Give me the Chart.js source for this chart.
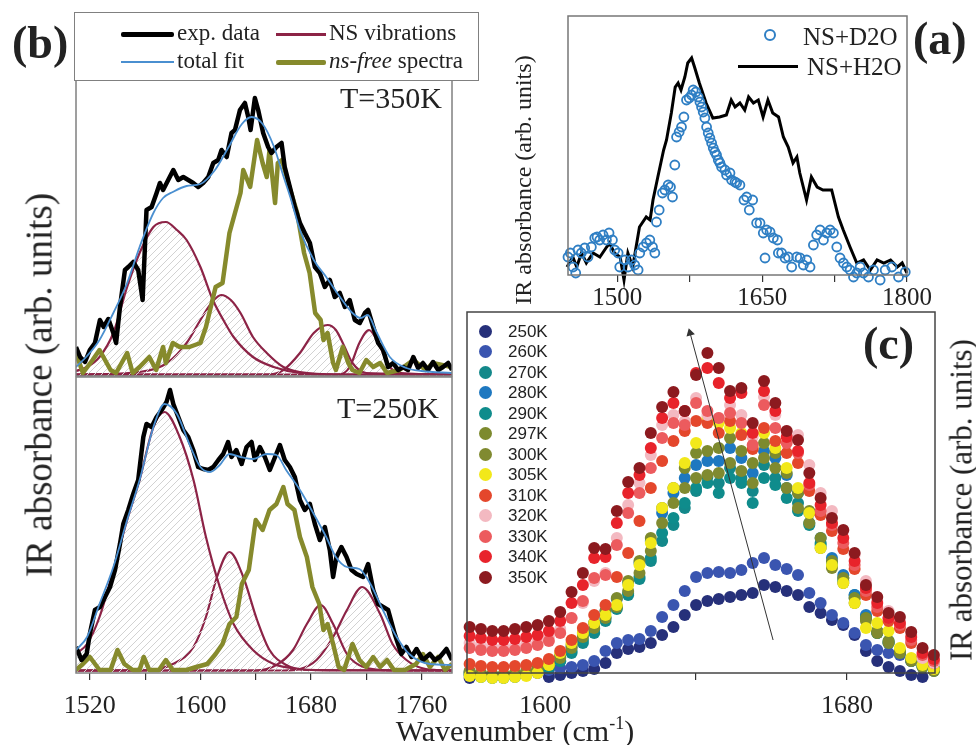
<!DOCTYPE html>
<html>
<head>
<meta charset="utf-8">
<script src="https://cdn.jsdelivr.net/npm/chart.js@4.4.1/dist/chart.umd.min.js"></script>
<style>
  body { margin: 0; background: #fff; }
  #fig { position: relative; width: 976px; height: 745px; overflow: hidden;
         font-family: "Liberation Serif", "Times New Roman", serif; color: #222; }
  #fig canvas { position: absolute; left: 0; top: 0; }
  .t { position: absolute; white-space: nowrap; line-height: 1; }
  .rot { transform: translate(-50%, -50%) rotate(-90deg); }
  .pl { font-weight: bold; font-size: 46px; color: #222; }
  .ln { position: absolute; }
  .dot { position: absolute; width: 13px; height: 13px; border-radius: 50%; }
  .cl { position: absolute; font-family: "Liberation Sans", Arial, sans-serif; font-size: 17px; line-height: 1; color: #222; }
</style>
</head>
<body>
<div id="fig">
  <canvas id="cBTop" width="976" height="745"></canvas>
  <canvas id="cBBot" width="976" height="745"></canvas>
  <canvas id="cA" width="976" height="745"></canvas>
  <canvas id="cC" width="976" height="745"></canvas>

  <!-- legende (b) -->
  <div style="position:absolute;left:74px;top:12px;width:403px;height:67px;border:1.5px solid #808080;background:#fff;font-size:23px;">
    <div class="ln" style="left:46px;top:19px;width:53px;height:5px;background:#000;border-radius:2px"></div>
    <div class="t" style="left:102px;top:8px">exp. data</div>
    <div class="ln" style="left:46px;top:48px;width:53px;height:2px;background:#4a8fd0"></div>
    <div class="t" style="left:102px;top:36px">total fit</div>
    <div class="ln" style="left:201px;top:20px;width:50px;height:2.5px;background:#8c2346"></div>
    <div class="t" style="left:254px;top:8px">NS vibrations</div>
    <div class="ln" style="left:201px;top:47px;width:50px;height:5px;background:#868a2c;border-radius:2px"></div>
    <div class="t" style="left:254px;top:36px"><i>ns-free</i> spectra</div>
  </div>

  <div class="t pl" style="left:12px;top:20px">(b)</div>
  <div class="t pl" style="left:913px;top:16px">(a)</div>
  <div class="t pl" style="left:863px;top:321px">(c)</div>

  <div class="t" style="left:340px;top:83px;font-size:30px">T=350K</div>
  <div class="t" style="left:337px;top:393px;font-size:30px">T=250K</div>

  <div class="t rot" style="left:39px;top:385px;font-size:37px">IR absorbance (arb. units)</div>
  <div class="t rot" style="left:523px;top:180px;font-size:24px">IR absorbance (arb. units)</div>
  <div class="t rot" style="left:961px;top:500px;font-size:31px">IR absorbance (arb. units)</div>

  <div class="t" style="left:515px;top:716px;font-size:30px;transform:translateX(-50%)">Wavenumber (cm<span style="font-size:18px;position:relative;top:-12px">-1</span>)</div>

  <!-- legende (a) -->
  <div class="ln" style="left:764px;top:29px;width:8px;height:8px;border:2px solid #2f7fc4;border-radius:50%"></div>
  <div class="t" style="left:803px;top:24px;font-size:25px">NS+D2O</div>
  <div class="ln" style="left:738px;top:65px;width:60px;height:3px;background:#000"></div>
  <div class="t" style="left:807px;top:54px;font-size:25px">NS+H2O</div>

  <div id="legC"></div>
</div>

<script>
// ---------- données (b), T = 350K ----------
const bTopExp = [[1510,29],[1513,19],[1516.5,14],[1520,26],[1523.7,33],[1527.3,56],[1530,49],[1533.4,57],[1537,43],[1539,33],[1541.8,69],[1545.4,106],[1547.8,109],[1551.4,114],[1555,106],[1558.2,76],[1561,166],[1564.7,169],[1568.3,183],[1570.7,193],[1573,186],[1576.7,196],[1580.4,206],[1584,196],[1587.6,199],[1591.2,196],[1594.8,193],[1598.4,189],[1602,193],[1605.7,199],[1609.3,213],[1612.9,216],[1615.3,226],[1619,219],[1622.5,243],[1625,246],[1628.6,266],[1632.2,273],[1634.6,259],[1636.3,246],[1639.4,278],[1641.8,266],[1645.4,243],[1649,229],[1651.4,223],[1655,229],[1658.7,233],[1661,209],[1664.7,189],[1668.3,169],[1672,153],[1675.5,143],[1679.2,133],[1682.8,109],[1686.4,103],[1690,89],[1693.6,96],[1697.2,79],[1700.8,83],[1704.5,69],[1708,76],[1711.7,56],[1715.3,53],[1719,63],[1721.3,66],[1725,49],[1728.6,33],[1732.2,26],[1735.8,9],[1739.4,13],[1743,6],[1746.6,9],[1750.2,6],[1754,19],[1757.5,8],[1761,13],[1764.7,6],[1768.3,14],[1772,6],[1775.5,9],[1779.2,13],[1782,6]];
const bTopFit = [[1510,9],[1518,20],[1527,36],[1537,63],[1547,93],[1556,129],[1566,163],[1573,178],[1580,184],[1590,190],[1600,192],[1610,205],[1620,228],[1630,252],[1637,259],[1645,252],[1653,230],[1660,200],[1665,179],[1672,146],[1682,116],[1691,99],[1701,79],[1710,63],[1716,58],[1721,61],[1727,45],[1737,19],[1749,8],[1760,5],[1782,3]];
const bTopFree = [[1510,23],[1515,3],[1522,16],[1527,26],[1535,6],[1539,3],[1547,23],[1551,3],[1556,9],[1563,19],[1568,6],[1573,29],[1575,13],[1580,33],[1585,29],[1592,29],[1600,33],[1604,49],[1611,89],[1616,93],[1619,123],[1621,143],[1629,183],[1631,206],[1636,189],[1641,236],[1645,213],[1648,199],[1650,226],[1654,173],[1656,213],[1659,216],[1665,186],[1670,163],[1675,123],[1679,103],[1683,63],[1687,56],[1689,36],[1692,43],[1696,13],[1698,6],[1703,29],[1707,13],[1710,6],[1715,3],[1720,16],[1725,9],[1730,13],[1735,3],[1744,6],[1754,16],[1763,6],[1768,13],[1782,9]];
const bTopNS1 = [[1510,5],[1518,9],[1527,19],[1537,43],[1547,89],[1556,123],[1566,149],[1575,154],[1583,146],[1590,136],[1600,109],[1609,76],[1617,55],[1624,39],[1638,19],[1653,9],[1672,3],[1700,1.5],[1782,1.5]];
const bTopNS2 = [[1510,1.5],[1556,4],[1576,13],[1590,33],[1600,56],[1608,73],[1615,81],[1622,76],[1629,63],[1638,39],[1648,23],[1660,9],[1672,4],[1700,1.5],[1782,1.5]];
const bTopNS3 = [[1510,1.5],[1650,1.5],[1660,6],[1672,23],[1682,43],[1692,51],[1698,46],[1703,33],[1710,13],[1720,3],[1782,1.5]];
const bTopNS4 = [[1510,1.5],[1700,1.5],[1708,9],[1715,33],[1722,46],[1730,29],[1737,9],[1745,3],[1782,1.5]];

// ---------- données (b), T = 250K ----------
const bBotExp = [[1510,25],[1514,12],[1517.7,18],[1520,38],[1523.7,62],[1527.3,65],[1531,75],[1534.6,85],[1538.2,102],[1541.8,128],[1544.2,148],[1547.8,162],[1551.4,178],[1555,192],[1558.7,235],[1561,248],[1564.7,245],[1568.3,255],[1572,262],[1575.5,270],[1578,282],[1580.4,268],[1584,255],[1587.6,242],[1591.2,235],[1594.8,222],[1598.4,205],[1602,203],[1605.7,202],[1609.3,205],[1613,212],[1616.5,218],[1620,230],[1622.5,215],[1626,222],[1629.8,208],[1633.4,225],[1637,230],[1639.4,212],[1643,225],[1646.6,215],[1650.2,202],[1654,215],[1657.5,227],[1661,212],[1664.7,205],[1668.3,195],[1672,172],[1675.5,162],[1679.2,168],[1682.8,148],[1686.4,132],[1690,145],[1693.6,122],[1696,95],[1698.4,115],[1702,125],[1705.7,115],[1709.3,102],[1713,98],[1717.7,95],[1721.3,108],[1725,82],[1728.6,68],[1732.2,65],[1735.8,62],[1740.6,38],[1745.4,18],[1749,25],[1752.7,15],[1756.3,23],[1761,12],[1766,18],[1769.5,12],[1773.2,15],[1778,23],[1782,12]];
const bBotFit = [[1510,22],[1518,35],[1527,68],[1537,105],[1547,152],[1556,192],[1566,245],[1574,268],[1583,258],[1592,228],[1600,205],[1607,200],[1614,207],[1621,218],[1629,215],[1638,213],[1648,218],[1655,217],[1662,202],[1672,182],[1682,158],[1691,135],[1698,115],[1706,105],[1715,103],[1723,88],[1732,62],[1742,35],[1751,18],[1766,8],[1782,7]];
const bBotFree = [[1510,2],[1515,8],[1520,15],[1527,2],[1535,2],[1540,22],[1545,8],[1551,2],[1556,2],[1559,15],[1563,2],[1570,2],[1575,12],[1580,2],[1590,2],[1597,5],[1605,8],[1611,18],[1616,28],[1621,48],[1626,55],[1630,88],[1635,102],[1640,152],[1645,142],[1650,162],[1655,168],[1660,185],[1663,168],[1668,162],[1672,135],[1677,115],[1681,85],[1686,68],[1689,42],[1692,48],[1696,28],[1700,5],[1704,2],[1710,28],[1715,12],[1720,5],[1725,15],[1730,5],[1735,12],[1740,2],[1748,2],[1756,8],[1761,18],[1766,5],[1772,15],[1777,2],[1782,8]];
const bBotNS1 = [[1510,18],[1518,28],[1527,55],[1537,102],[1547,152],[1556,192],[1566,245],[1574,260],[1585,235],[1595,192],[1604,135],[1614,85],[1624,48],[1638,22],[1653,8],[1672,3],[1700,1.5],[1782,1.5]];
const bBotNS2 = [[1510,1.5],[1563,2],[1580,8],[1595,25],[1604,55],[1612,95],[1621,120],[1631,95],[1641,52],[1650,22],[1662,7],[1677,2],[1782,1.5]];
const bBotNS3 = [[1510,1.5],[1640,1.5],[1655,7],[1667,22],[1677,48],[1687,67],[1696,48],[1706,18],[1718,5],[1740,1.5],[1782,1.5]];
const bBotNS4 = [[1510,1.5],[1660,1.5],[1672,3],[1684,12],[1696,35],[1706,62],[1717,85],[1730,58],[1739,28],[1749,12],[1763,3],[1782,1.5]];
const bTicks = [1520, 1560, 1600, 1640, 1680, 1720, 1760];
const bLabels = [1520, 1600, 1680, 1760];

// ---------- données (a) ----------
const aH2O = [[1448,8],[1454,18],[1458,8],[1463,22],[1468,12],[1475,22],[1482,18],[1489,28],[1492,32],[1497,22],[1503,18],[1507,-5],[1511,22],[1516,8],[1523,48],[1530,58],[1534,55],[1537,75],[1542,98],[1548,125],[1551,135],[1556,162],[1560,188],[1563,192],[1566,185],[1570,198],[1573,212],[1577,217],[1580,208],[1585,192],[1592,172],[1599,157],[1606,158],[1613,160],[1618,175],[1622,168],[1627,172],[1632,165],[1636,178],[1641,172],[1646,175],[1651,158],[1656,175],[1661,162],[1667,158],[1672,138],[1677,128],[1682,112],[1686,118],[1689,102],[1696,75],[1701,98],[1707,88],[1713,85],[1722,85],[1729,58],[1734,45],[1741,28],[1748,12],[1755,15],[1762,5],[1769,15],[1776,12],[1783,15],[1790,8],[1795,12],[1800,2]];
const aD2O = [[1449,18],[1451.4,22],[1454.2,8],[1457,2],[1459.4,25],[1462.8,22],[1466.3,27],[1469.7,18],[1473.2,28],[1476.7,37],[1479.1,38],[1481.8,35],[1485.3,40],[1488.8,35],[1491.5,42],[1495,35],[1497.4,25],[1500.9,22],[1502.6,8],[1505.4,-8],[1507.8,15],[1511.2,8],[1514.7,15],[1518.1,10],[1521.6,5],[1523.3,22],[1526.8,28],[1530.2,32],[1533.7,35],[1536.5,28],[1538.9,22],[1540.6,53],[1543.4,65],[1546.8,82],[1549.3,85],[1552.7,90],[1555.1,88],[1557.2,78],[1559.6,110],[1561.4,138],[1564.1,143],[1566.5,148],[1569,158],[1571.7,175],[1574.5,177],[1576.9,180],[1578.6,185],[1581.4,183],[1583.8,178],[1585.6,173],[1587.3,168],[1589,163],[1590.7,157],[1592.5,148],[1594.2,142],[1595.9,137],[1597.7,132],[1599.4,127],[1601.1,123],[1602.8,120],[1604.6,115],[1606.3,112],[1608,108],[1611.5,105],[1613.2,100],[1616.7,102],[1618.4,95],[1621.9,93],[1623.6,92],[1627,90],[1631.2,75],[1634,78],[1636.7,65],[1640.2,75],[1644.3,52],[1647.8,52],[1651.2,42],[1653,17],[1654.7,45],[1658.2,43],[1661.6,37],[1665.8,35],[1666.8,22],[1670.2,22],[1673.7,17],[1677.2,18],[1680.6,8],[1683,-8],[1685.8,18],[1689.3,17],[1692.7,10],[1696.2,15],[1699.6,8],[1703.1,30],[1706.5,40],[1710,45],[1713.5,35],[1716.9,42],[1720.4,45],[1723.8,42],[1727.3,28],[1730.7,17],[1734.2,12],[1737.7,8],[1741.1,5],[1744.6,-2],[1748,2],[1751.5,8],[1754.9,2],[1760.1,-2],[1765.3,5],[1772.2,-5],[1777.4,5],[1784.3,8],[1791.2,-2],[1798.2,3]];
const aTicks = [1500, 1575, 1650, 1725, 1800];
const aLabels = [1500, 1650, 1800];

// ---------- données (c) ----------
const cWave = [1580,1583,1586,1589,1592,1595,1598,1601,1604,1607,1610,1613,1616,1619,1622,1625,1628,1631,1634,1637,1640,1643,1646,1649,1652,1655,1658,1661,1664,1667,1670,1673,1676,1679,1682,1685,1688,1691,1694,1697,1700,1703];
const c250 = [-5,-7,-8,-9,-9,-8,-6,-4,-2,0,2,4,10,20,24,26,30,38,46,58,68,72,74,76,78,80,88,86,82,78,66,60,53,48,38,22,12,6,2,-2,-4,-6];
const c260 = [-2,-3,-4,-4,-3,-2,0,3,5,6,8,12,22,30,33,34,42,56,68,82,96,100,101,100,103,110,115,108,104,98,80,70,58,50,40,28,23,20,18,12,8,5];
const c270 = [-2,-4,-5,-5,-4,-2,1,5,12,20,30,40,52,64,78,94,112,132,148,165,182,196,190,205,195,182,208,195,185,170,150,130,110,95,78,55,40,30,20,12,6,2];
const c280 = [1,-1,-2,-2,-1,1,4,8,16,26,38,50,62,74,90,110,132,160,180,195,208,212,212,225,215,200,222,215,198,180,160,135,115,98,78,58,42,30,20,12,6,3];
const c290 = [0,-2,-3,-3,-2,0,2,6,12,22,33,44,55,66,80,96,115,140,155,170,185,190,180,195,190,170,195,188,175,162,148,128,108,92,75,55,40,32,22,14,7,3];
const c297 = [2,0,-1,-1,0,2,5,10,18,28,40,50,62,75,92,112,135,165,185,205,220,222,225,235,222,210,230,220,200,180,162,135,112,95,75,55,42,32,22,14,8,4];
const c300 = [0,-2,-3,-3,-2,0,3,8,15,25,36,45,55,66,82,100,122,150,170,185,195,198,200,210,202,190,215,205,185,165,150,125,105,90,70,52,40,30,20,12,6,2];
const c305 = [-3,-4,-5,-5,-4,-3,0,8,20,30,40,50,58,68,88,108,130,165,185,210,230,255,250,245,240,225,240,225,205,185,160,125,108,90,70,45,50,42,25,15,8,4];
const c310 = [9,7,6,6,7,8,10,14,22,33,45,58,68,96,120,152,185,212,232,242,252,250,240,252,238,224,245,232,220,210,182,158,142,124,104,78,62,52,45,30,16,10];
const c320 = [30,28,26,26,27,29,32,36,44,55,70,92,100,135,168,190,218,248,258,252,275,258,255,268,258,236,276,258,242,238,208,180,162,142,118,92,72,62,52,38,15,10];
const c330 = [25,23,22,22,23,25,28,32,40,55,72,95,98,128,160,180,205,235,250,248,270,262,255,260,250,228,268,245,230,220,188,162,148,130,108,82,66,55,48,33,18,12];
const c340 = [37,35,33,33,34,36,38,42,52,70,88,115,116,150,180,198,225,255,270,262,300,305,290,275,280,240,282,262,236,222,190,168,150,135,112,85,70,55,50,36,20,14];
const c350 = [46,44,42,42,44,46,48,52,61,81,100,125,124,162,191,205,240,266,281,262,298,320,305,282,285,250,292,270,242,233,200,175,155,143,120,88,76,60,56,41,25,18];
const cNames = ["250K","260K","270K","280K","290K","297K","300K","305K","310K","320K","330K","340K","350K"];
const cSeries = [c250, c260, c270, c280, c290, c297, c300, c305, c310, c320, c330, c340, c350];
const cColors = ["#26307a","#3a55b0","#13888a","#1e78c0","#0f8c8c","#7d8a2e","#808a30","#f2e81a","#e4472c","#f3b9c1","#ec5b5e","#e8232b","#8c1a1f"];
const cArrowX = [1660.4, 1638.4];
const cArrowY = [33, 340];
const cTicks = [1600, 1640, 1680];
const cLabels = [1600, 1680];

const serif = "'Liberation Serif', 'Times New Roman', serif";
const pts = arr => arr.map(p => ({ x: p[0], y: p[1] }));

// cadre autour de la zone du graphique
const frame = {
  id: 'frame',
  afterDraw(chart, args, opts) {
    const a = chart.chartArea, c = chart.ctx;
    c.save();
    c.strokeStyle = opts.color;
    c.lineWidth = opts.width;
    c.strokeRect(a.left, a.top, a.right - a.left, a.bottom - a.top);
    c.restore();
  }
};

function hatch() {
  const cv = document.createElement('canvas');
  cv.width = 7; cv.height = 7;
  const g = cv.getContext('2d');
  g.strokeStyle = '#d2d2d2';
  g.lineWidth = 1;
  g.beginPath();
  g.moveTo(0, 7); g.lineTo(7, 0);
  g.moveTo(-1, 1); g.lineTo(1, -1);
  g.moveTo(6, 8); g.lineTo(8, 6);
  g.stroke();
  return g.createPattern(cv, 'repeat');
}

function xAxis(min, max, tickVals, labelVals, size, pad, show) {
  const ax = {
    type: 'linear', min: min, max: max, display: show,
    afterBuildTicks: s => { s.ticks = tickVals.map(v => ({ value: v })); },
    grid: { drawOnChartArea: false, drawTicks: true, tickLength: 7, color: '#333', lineWidth: 1.2 },
    border: { display: false },
    ticks: {
      font: { family: serif, size: size }, color: '#222', padding: pad,
      maxRotation: 0, autoSkip: false,
      callback: v => labelVals.includes(v) ? String(v) : ''
    }
  };
  if (show) ax.afterFit = s => { s.height = 40; };
  return ax;
}

function options(pad, x, yMin, yMax, frameColor) {
  return {
    responsive: false, animation: false, devicePixelRatio: 1, events: [],
    layout: { padding: pad },
    scales: { x: x, y: { display: false, min: yMin, max: yMax } },
    plugins: { legend: { display: false }, tooltip: { enabled: false },
               frame: { color: frameColor, width: 1.5 } }
  };
}

function bDatasets(exp, fit, free, peaks, pattern) {
  const ds = [
    { data: pts(fit), borderColor: '#4a8fd0', borderWidth: 1.8, cubicInterpolationMode: 'monotone', order: 0 },
    { data: pts(exp), borderColor: '#000', borderWidth: 4.5, order: 1 },
    { data: pts(free), borderColor: '#868a2c', borderWidth: 4.5, order: 2 }
  ];
  peaks.forEach(p => ds.push({
    data: pts(p), borderColor: '#8c2346', borderWidth: 2.2, cubicInterpolationMode: 'monotone',
    fill: 'origin', backgroundColor: pattern, order: 3
  }));
  ds.forEach(d => { d.pointRadius = 0; d.borderJoinStyle = 'round'; });
  return ds;
}

const pat = hatch();

// (b) haut : 350K
new Chart(document.getElementById('cBTop'), {
  type: 'line',
  data: { datasets: bDatasets(bTopExp, bTopFit, bTopFree, [bTopNS1, bTopNS2, bTopNS3, bTopNS4], pat) },
  options: options({ left: 76, top: 80, right: 976 - 452, bottom: 745 - 376 },
                   xAxis(1510, 1782, bTicks, bLabels, 26, 3, false), 0, 296, '#808080'),
  plugins: [frame]
});

// (b) bas : 250K
new Chart(document.getElementById('cBBot'), {
  type: 'line',
  data: { datasets: bDatasets(bBotExp, bBotFit, bBotFree, [bBotNS1, bBotNS2, bBotNS3, bBotNS4], pat) },
  options: options({ left: 76, top: 377, right: 976 - 452, bottom: 745 - 673 - 40 },
                   xAxis(1510, 1782, bTicks, bLabels, 26, 11, true), -1, 295, '#808080'),
  plugins: [frame]
});

// (a)
new Chart(document.getElementById('cA'), {
  type: 'line',
  data: { datasets: [
    { data: pts(aD2O), showLine: false, pointRadius: 4.5, pointBorderWidth: 1.8,
      pointBorderColor: '#2f7fc4', pointBackgroundColor: 'rgba(255,255,255,0)', clip: false },
    { data: pts(aH2O), borderColor: '#000', borderWidth: 3, pointRadius: 0, clip: false }
  ] },
  options: options({ left: 568, top: 16, right: 976 - 907, bottom: 745 - 275 - 40 },
                   xAxis(1449, 1800, aTicks, aLabels, 25, 1, true), 0, 259, '#777'),
  plugins: [frame]
});

// (c)
const cDatasets = cSeries.map((vals, i) => ({
  data: cWave.map((w, j) => ({ x: w, y: vals[j] })),
  showLine: false, pointRadius: 6, pointBorderWidth: 0,
  pointBackgroundColor: cColors[i], clip: false, order: cSeries.length - i
}));
cDatasets.push({
  data: cArrowX.map((w, j) => ({ x: w, y: cArrowY[j] })),
  borderColor: '#333', borderWidth: 1, pointRadius: [0, 5], pointStyle: 'triangle',
  pointRotation: -15, pointBackgroundColor: '#333', pointBorderWidth: 0, clip: false, order: 0
});
new Chart(document.getElementById('cC'), {
  type: 'line',
  data: { datasets: cDatasets },
  options: options({ left: 467, top: 312, right: 976 - 935, bottom: 745 - 673 - 40 },
                   xAxis(1579.3, 1703.3, cTicks, cLabels, 26, 11, true), 0, 361, '#444'),
  plugins: [frame]
});

// légende (c)
const legC = document.getElementById('legC');
cNames.forEach((name, i) => {
  const y = 331 + 20.5 * i;
  const d = document.createElement('div');
  d.className = 'dot';
  d.style.left = (485 - 6.5) + 'px';
  d.style.top = (y - 6.5) + 'px';
  d.style.background = cColors[i];
  legC.appendChild(d);
  const l = document.createElement('div');
  l.className = 'cl';
  l.style.left = '508px';
  l.style.top = (y - 8.3) + 'px';
  l.textContent = name;
  legC.appendChild(l);
});
</script>
</body>
</html>
